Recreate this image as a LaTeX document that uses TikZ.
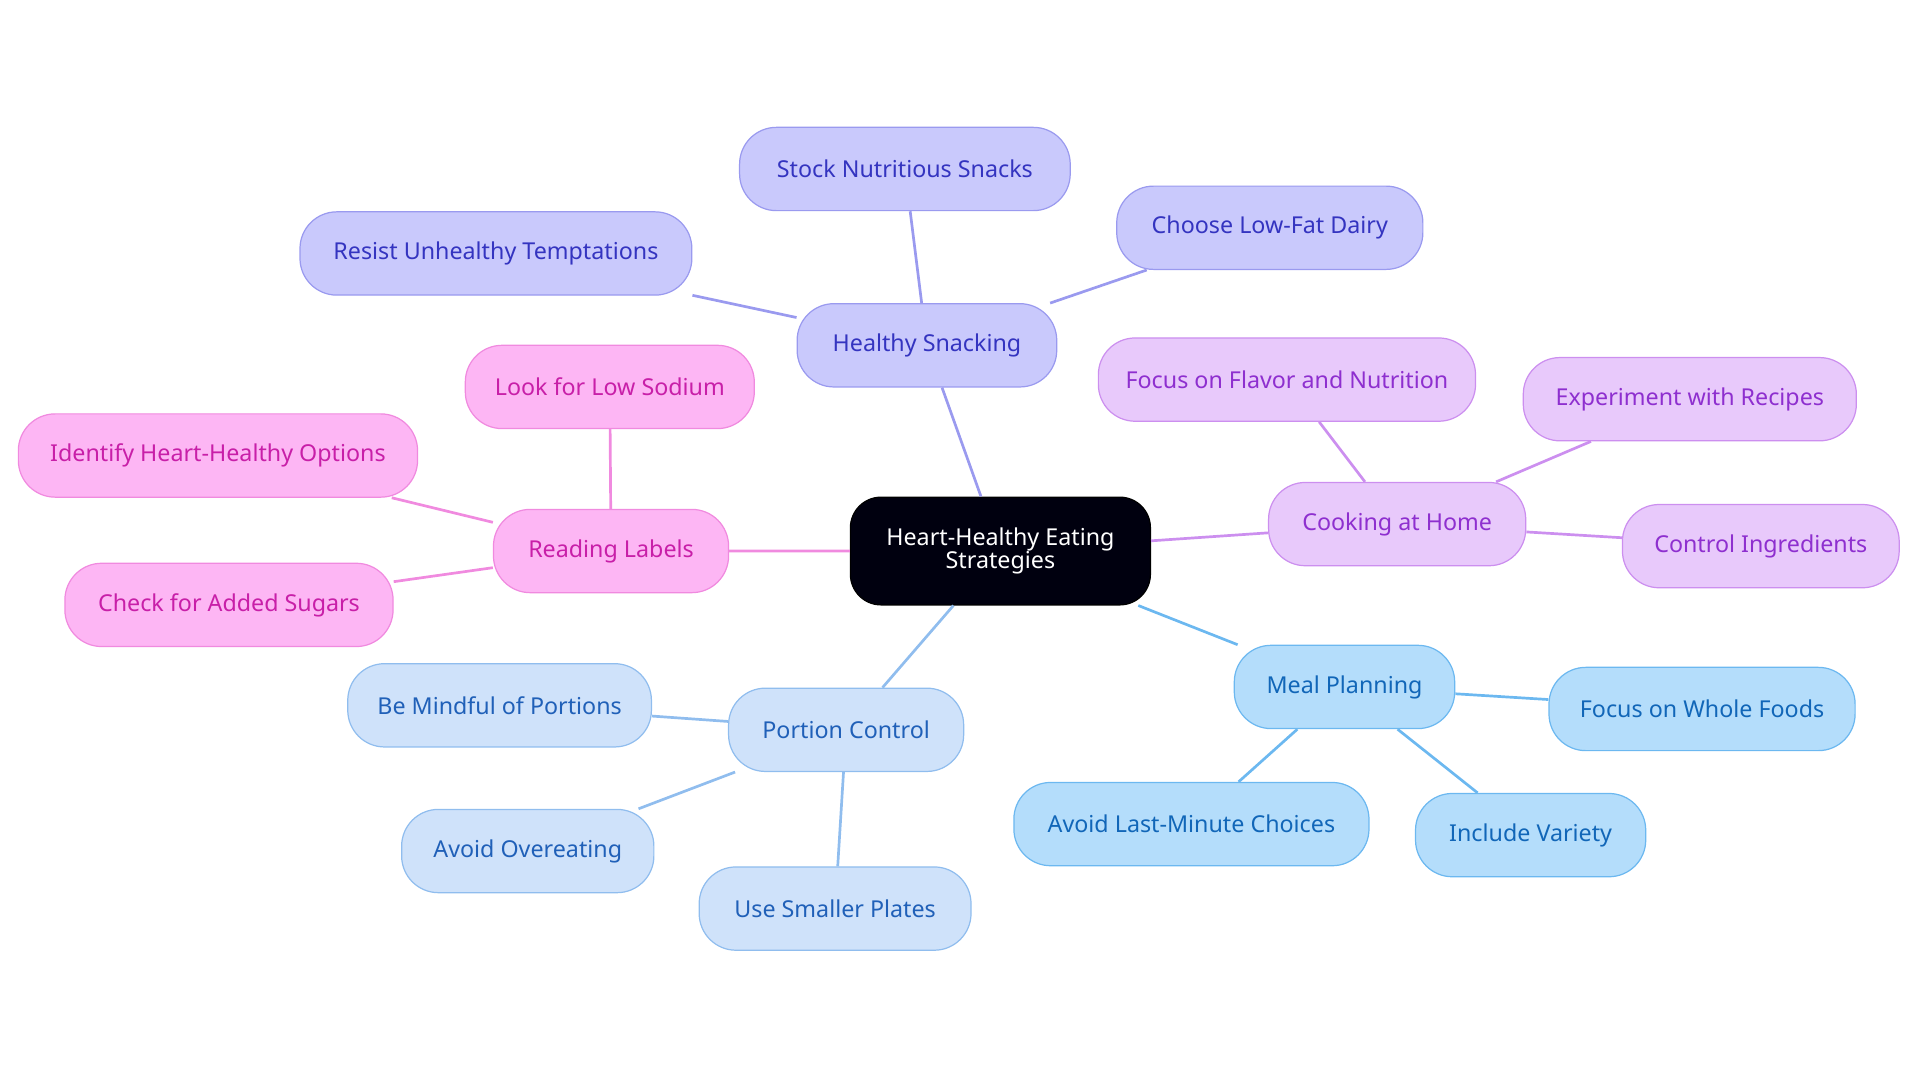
\documentclass[tikz,border=0pt]{standalone}
\usepackage{fontspec}
\setmainfont{Noto Sans}
\begin{document}
\begin{tikzpicture}[x=1pt,y=-1pt,
 base/.style={rounded corners=30pt,minimum height=68pt,line width=1pt,font=\fontsize{19}{22}\selectfont,align=center,inner sep=0pt},
 sn/.style={base,fill=snF,draw=snB,text=snT},
 rl/.style={base,fill=rlF,draw=rlB,text=rlT},
 ck/.style={base,fill=ckF,draw=ckB,text=ckT},
 mp/.style={base,fill=mpF,draw=mpB,text=mpT},
 pc/.style={base,fill=pcF,draw=pcB,text=pcT},
 e/.style={line width=2.2pt}]
\definecolor{snF}{HTML}{C9C9FC}\definecolor{snB}{HTML}{9A9AEF}\definecolor{snT}{HTML}{3434C0}
\definecolor{rlF}{HTML}{FDB6F4}\definecolor{rlB}{HTML}{F08ADF}\definecolor{rlT}{HTML}{C81FA8}
\definecolor{ckF}{HTML}{E8C9FB}\definecolor{ckB}{HTML}{CC8FEF}\definecolor{ckT}{HTML}{8E2FCF}
\definecolor{mpF}{HTML}{B4DDFB}\definecolor{mpB}{HTML}{6CB8F0}\definecolor{mpT}{HTML}{1166B8}
\definecolor{pcF}{HTML}{CFE2FA}\definecolor{pcB}{HTML}{90BDEE}\definecolor{pcT}{HTML}{2060B8}
\useasboundingbox (0,0) rectangle (1568,884);
\node[base,fill=black!90!blue!60!black,draw=black,text=white,minimum width=245pt,minimum height=88pt,rounded corners=25pt] (c) at (817,450) {Heart-Healthy Eating\\[-3pt]Strategies};
\node[sn,minimum width=212pt] (hs) at (757,282) {Healthy Snacking};
\node[sn,minimum width=270pt] (s1) at (739,138) {Stock Nutritious Snacks};
\node[sn,minimum width=250pt] (s2) at (1037,186) {Choose Low-Fat Dairy};
\node[sn,minimum width=320pt] (s3) at (405,207) {Resist Unhealthy Temptations};
\node[rl,minimum width=192pt] (rl) at (499,450) {Reading Labels};
\node[rl,minimum width=236pt] (r1) at (498,316) {Look for Low Sodium};
\node[rl,minimum width=326pt] (r2) at (178,372) {Identify Heart-Healthy Options};
\node[rl,minimum width=268pt] (r3) at (187,494) {Check for Added Sugars};
\node[ck,minimum width=210pt] (ck) at (1141,428) {Cooking at Home};
\node[ck,minimum width=308pt] (k1) at (1051,310) {Focus on Flavor and Nutrition};
\node[ck,minimum width=272pt] (k2) at (1380,326) {Experiment with Recipes};
\node[ck,minimum width=226pt] (k3) at (1438,446) {Control Ingredients};
\node[mp,minimum width=180pt] (mp) at (1098,561) {Meal Planning};
\node[mp,minimum width=250pt] (m1) at (1390,579) {Focus on Whole Foods};
\node[mp,minimum width=290pt] (m2) at (973,673) {Avoid Last-Minute Choices};
\node[mp,minimum width=188pt] (m3) at (1250,682) {Include Variety};
\node[pc,minimum width=192pt] (pc) at (691,596) {Portion Control};
\node[pc,minimum width=248pt] (p1) at (408,576) {Be Mindful of Portions};
\node[pc,minimum width=206pt] (p2) at (431,695) {Avoid Overeating};
\node[pc,minimum width=222pt] (p3) at (682,742) {Use Smaller Plates};
\begin{scope}[on background layer/.try]
\end{scope}
\draw[e,snB] (c) -- (hs) (hs) -- (s1) (hs) -- (s2) (hs) -- (s3);
\draw[e,rlB] (c) -- (rl) (rl) -- (r1) (rl) -- (r2) (rl) -- (r3);
\draw[e,ckB] (c) -- (ck) (ck) -- (k1) (ck) -- (k2) (ck) -- (k3);
\draw[e,mpB] (c) -- (mp) (mp) -- (m1) (mp) -- (m2) (mp) -- (m3);
\draw[e,pcB] (c) -- (pc) (pc) -- (p1) (pc) -- (p2) (pc) -- (p3);
\end{tikzpicture}
\end{document}
